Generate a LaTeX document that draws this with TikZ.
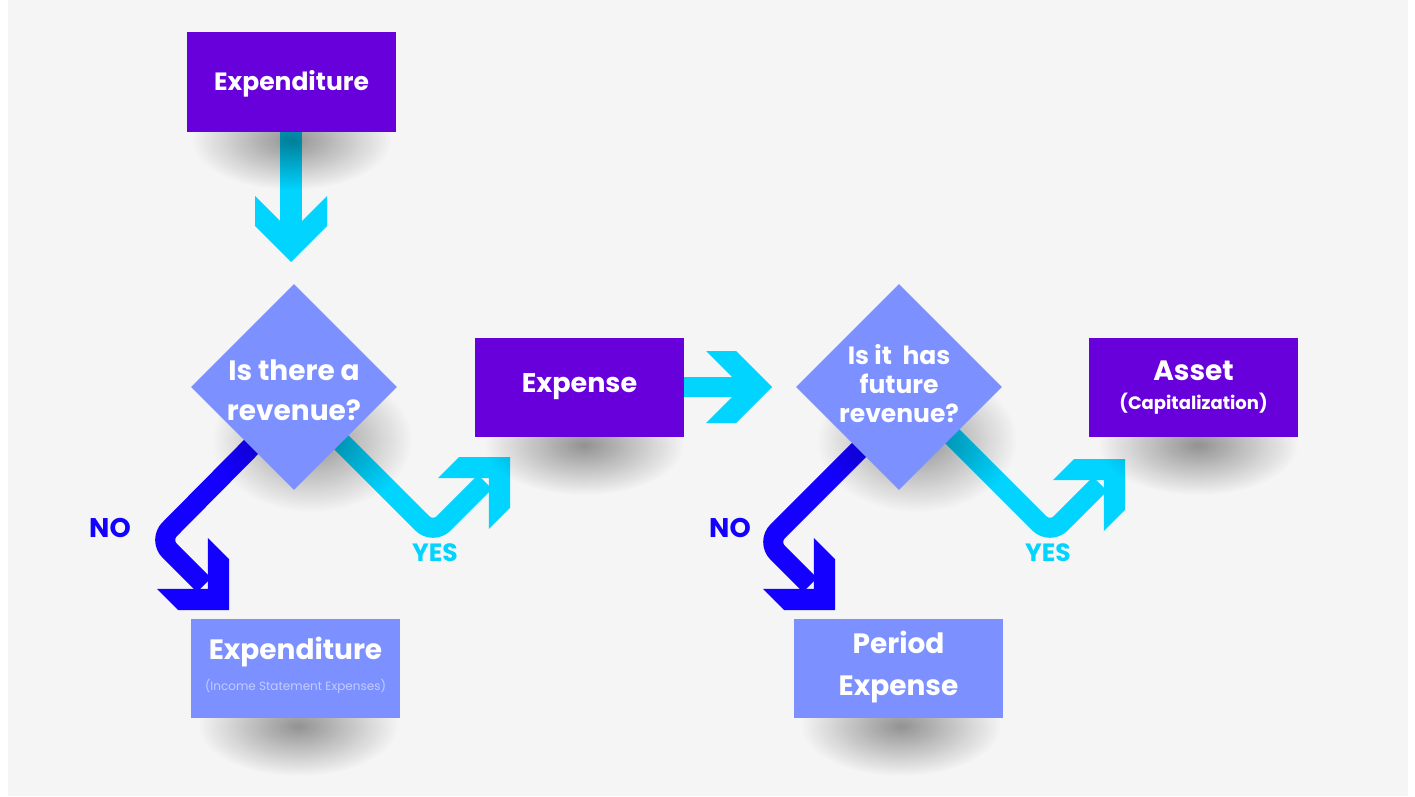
\documentclass[tikz,border=0pt]{standalone}
\usepackage{fontspec}
\setmainfont{Poppins}
\usetikzlibrary{shapes.geometric,fadings}
\definecolor{bg}{HTML}{F5F5F5}
\definecolor{purp}{HTML}{6800DC}
\definecolor{peri}{HTML}{7C91FF}
\definecolor{cyanarr}{HTML}{00D4FF}
\definecolor{bluearr}{HTML}{1400FF}
\definecolor{subtxt}{HTML}{C3CCFF}
\tikzfading[name=softfade, inner color=transparent!0, outer color=transparent!100]
\newcommand{\chevhead}[3]{%
  \begin{scope}[shift={(#1)},rotate=#2]
    \fill[#3] (0,0) -- (-36,36) -- (-66,36) -- (-30,0) -- (-66,-36) -- (-36,-36) -- cycle;
  \end{scope}}
\newcommand{\softshadow}[3]{%
  \fill[black, opacity=0.4, path fading=softfade] (#1) ellipse [x radius=#2, y radius=#3];}
\begin{document}
\begin{tikzpicture}[x=1pt,y=-1pt,
  pbox/.style={rectangle, fill=purp, minimum width=209pt, minimum height=99pt, inner sep=0pt},
  lbox/.style={rectangle, fill=peri, minimum width=209pt, minimum height=99pt, inner sep=0pt},
  dia/.style={diamond, aspect=1, fill=peri, minimum width=206pt, minimum height=206pt, inner sep=0pt},
  ttxt/.style={text=white, align=center, inner sep=0pt},
  nolab/.style={text=bluearr, font=\fontsize{27}{30}\selectfont\bfseries},
  yeslab/.style={text=cyanarr, font=\fontsize{25}{28}\selectfont\bfseries},
  cshaft/.style={line width=20pt, cyanarr, rounded corners=15pt},
  bshaft/.style={line width=20pt, bluearr, rounded corners=15pt}
]
\useasboundingbox (0,0) rectangle (1415,797);
\fill[white] (0,0) rectangle (1415,797);
\fill[bg] (8,0) rectangle (1408,796);

% coordinates for connectors
\coordinate (dtip) at (291,262);
\coordinate (dend) at (291,235);
\coordinate (rtip) at (772,387);
\coordinate (rend) at (745,387);
\coordinate (n1s) at (258,440);
\coordinate (n1v) at (159,540);
\coordinate (n1e) at (204,585);
\coordinate (n1t) at (229,610);
\coordinate (y1s) at (335,436);
\coordinate (y1v) at (433,534);
\coordinate (y1e) at (485,482);
\coordinate (y1t) at (510,457);
\coordinate (n2s) at (866,443);
\coordinate (n2v) at (767,542);
\coordinate (n2e) at (810,585);
\coordinate (n2t) at (835,610);
\coordinate (y2s) at (946,430);
\coordinate (y2v) at (1050,534);
\coordinate (y2e) at (1100,484);
\coordinate (y2t) at (1125,459);

% arrows (under the shapes)
\draw[line width=22pt, cyanarr] (291,131) -- (dend);
\chevhead{dtip}{-90}{cyanarr}
\draw[line width=20pt, cyanarr] (684,387) -- (rend);
\chevhead{rtip}{0}{cyanarr}
\draw[bshaft] (n1s) -- (n1v) -- (n1e);
\chevhead{n1t}{-45}{bluearr}
\draw[cshaft] (y1s) -- (y1v) -- (y1e);
\chevhead{y1t}{45}{cyanarr}
\draw[bshaft] (n2s) -- (n2v) -- (n2e);
\chevhead{n2t}{-45}{bluearr}
\draw[cshaft] (y2s) -- (y2v) -- (y2e);
\chevhead{y2t}{45}{cyanarr}

% soft shadows
\softshadow{291.5,140}{100}{50}
\softshadow{584,445}{100}{50}
\softshadow{1198,445}{100}{50}
\softshadow{298,726}{100}{50}
\softshadow{901,726}{100}{50}
\softshadow{312,440}{100}{72}
\softshadow{917,440}{100}{72}

% shapes
\node[pbox] (e1) at (291.5,82) {};
\node[ttxt, font=\fontsize{25}{30}\selectfont\bfseries] (e1t) at (291.5,84) {Expenditure};
\node[dia] (d1) at (294,387) {};
\node[ttxt, font=\fontsize{28}{40}\selectfont\bfseries] (t1) at (294,390) {Is there a\\revenue?};
\node[pbox] (ex) at (579.5,387.5) {};
\node[ttxt, font=\fontsize{27}{30}\selectfont\bfseries] (ext) at (579.5,387) {Expense};
\node[dia] (d2) at (899,387) {};
\node[ttxt, font=\fontsize{25}{29}\selectfont\bfseries] (t2) at (899,384) {Is it\ \ has\\future\\revenue?};
\node[pbox] (as) at (1193.5,387.5) {};
\node[ttxt, font=\fontsize{28}{30}\selectfont\bfseries] (ast) at (1193.5,371) {Asset};
\node[ttxt, font=\fontsize{18}{20}\selectfont\bfseries] (cap) at (1193.5,404) {(Capitalization)};
\node[lbox] (b1) at (295.5,668.5) {};
\node[ttxt, font=\fontsize{28}{30}\selectfont\bfseries] (b1t) at (295.5,652) {Expenditure};
\node[ttxt, text=subtxt, font=\fontsize{12}{14}\selectfont] (b1s) at (295.5,686) {(Income Statement Expenses)};
\node[lbox] (b2) at (898.5,668.5) {};
\node[ttxt, font=\fontsize{28}{42}\selectfont\bfseries] (b2t) at (898.5,667) {Period\\Expense};

% labels
\node[nolab] (no1) at (110,528) {NO};
\node[yeslab] (yes1) at (435,553) {YES};
\node[nolab] (no2) at (730,528) {NO};
\node[yeslab] (yes2) at (1048,553) {YES};
\end{tikzpicture}
\end{document}
